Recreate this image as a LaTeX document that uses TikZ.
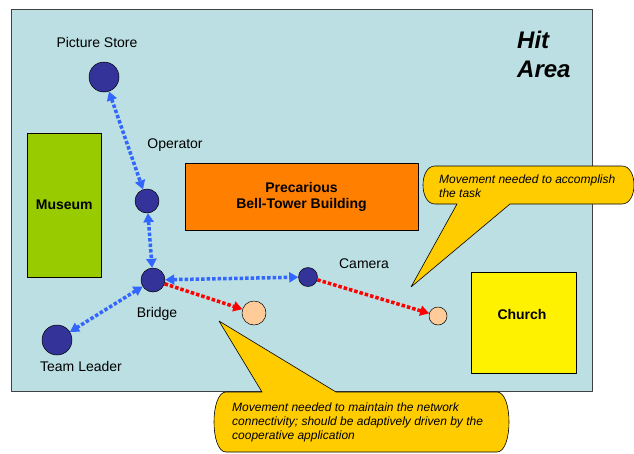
\documentclass[tikz,border=0pt]{standalone}
\usepackage{fontspec}
\setmainfont{Liberation Sans}
\usetikzlibrary{arrows.meta}

\definecolor{hitarea}{RGB}{187,223,226}
\definecolor{museumgreen}{RGB}{153,204,0}
\definecolor{towerorange}{RGB}{255,128,0}
\definecolor{devblue}{RGB}{51,51,153}
\definecolor{peach}{RGB}{255,204,153}
\definecolor{calloutgold}{RGB}{255,204,0}
\definecolor{linkblue}{RGB}{51,102,255}

\begin{document}
\begin{tikzpicture}[x=1pt, y=-1pt, line join=round,
  lbl/.style={font=\fontsize{14}{16}\selectfont, inner sep=0pt},
  bldg/.style={draw=black, line width=0.6pt, font=\fontsize{14}{16}\selectfont\bfseries, align=center, inner sep=0pt},
  dev/.style={circle, draw=black, line width=0.5pt, fill=devblue, inner sep=0pt, minimum size=#1},
  ghost/.style={circle, draw=black, line width=0.5pt, fill=peach, inner sep=0pt, minimum size=#1},
  link/.style={linkblue, line width=3.5pt, dash pattern=on 3.5pt off 2pt, {Triangle[length=9pt,width=10pt]}-{Triangle[length=9pt,width=10pt]}},
  move/.style={red, line width=3.5pt, dash pattern=on 3.5pt off 2pt, -{Triangle[length=9pt,width=10pt]}},
  callout/.style={fill=calloutgold, draw=black, line width=0.6pt},
  note/.style={font=\fontsize{12}{14}\selectfont\itshape, align=left, inner sep=0pt, anchor=base west}]
  \useasboundingbox (0,0) rectangle (634,453);
  % Hit area.
  \draw[fill=hitarea, draw=black!75, line width=0.8pt] (11,9) rectangle (592,391);
  \node[font=\fontsize{24}{29}\selectfont\bfseries\itshape, align=left, inner sep=0pt, anchor=west] (hit) at (517,54) {Hit\\Area};
  % Buildings.
  \node[bldg, fill=museumgreen, minimum width=73.5pt, minimum height=144pt] (museum) at (64.25,205) {Museum};
  \node[bldg, fill=towerorange, minimum width=233pt, minimum height=67pt] (tower) at (301.5,196.5) {Precarious\\Bell-Tower Building};
  \node[bldg, fill=yellow, minimum width=104.5pt, minimum height=101pt] (church) at (524,322.5) {};
  \node[lbl, font=\fontsize{14}{16}\selectfont\bfseries] (churchlbl) at (522,314) {Church};
  % Team members.
  \node[dev=30pt] (store) at (104,77) {};
  \node[dev=24pt] (operator) at (147,201) {};
  \node[dev=24pt] (bridge) at (153,280) {};
  \node[dev=30pt] (leader) at (57,340) {};
  \node[dev=19pt] (camera) at (308,277) {};
  \node[ghost=24pt] (bridgenext) at (254,313) {};
  \node[ghost=18pt] (cameranext) at (438,316) {};
  \node[lbl] (storelbl) at (97,42) {Picture Store};
  \node[lbl] (operatorlbl) at (175,145) {Operator};
  \node[lbl] (bridgelbl) at (157,314) {Bridge};
  \node[lbl] (leaderlbl) at (81,366) {Team Leader};
  \node[lbl] (cameralbl) at (364,264) {Camera};
  % Links and moves.
  \draw[link] (store) -- (operator);
  \draw[link] (operator) -- (bridge);
  \draw[link] (bridge) -- (camera);
  \draw[link] (bridge) -- (leader);
  \draw[move] (bridge) -- (bridgenext);
  \draw[move] (camera) -- (cameranext);
  % Callouts.
  \draw[callout] (510,204) -- (622,204) .. controls (638,204) and (638,166) .. (622,166)
    -- (435,166) .. controls (419,166) and (419,204) .. (435,204) -- (457,204) -- (411,287) -- cycle;
  \node[note] (tasknote) at (439,197) {Movement needed to accomplish\\the task};
  \draw[callout] (336,392) -- (497,392) .. controls (513,392) and (513,452) .. (497,452)
    -- (226,452) .. controls (210,452) and (210,392) .. (226,392) -- (262,392) -- (219,321) -- cycle;
  \node[note] (netnote) at (232,439) {Movement needed to maintain the network\\connectivity; should be adaptively driven by the\\cooperative application};
\end{tikzpicture}
\end{document}
